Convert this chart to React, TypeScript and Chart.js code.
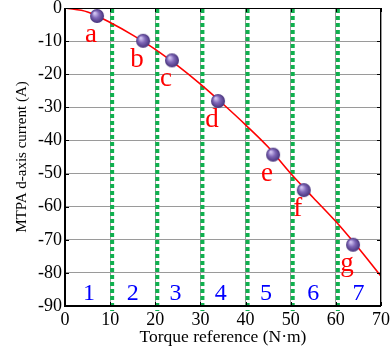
import React, { useEffect, useRef } from "react";
import { Chart, registerables } from "chart.js";

Chart.register(...registerables);

// MTPA curve samples (torque N·m -> d-axis current A)
const curveTorque = [0, 5, 10, 15, 20, 25, 30, 35, 40, 45, 50, 55, 60, 65, 70];
const curveCurrent = [0, -1.2, -4.4, -8.2, -12.5, -17.5, -23, -29, -35.3, -42, -50, -57.3, -64.5, -72.5, -81];

// Operating points a–g
const pointNames = ["a", "b", "c", "d", "e", "f", "g"];
const pointTorque = [7.1, 17.3, 23.7, 33.9, 46.1, 52.9, 63.8];
const pointCurrent = [-2.4, -9.9, -15.8, -28.1, -44.3, -55.0, -71.5];

// Region boundaries and region numbers
const boundaries = [10, 20, 30, 40, 50, 60];
const regionNames = ["1", "2", "3", "4", "5", "6", "7"];
const regionCenters = [5.3, 15, 24.5, 34.5, 44.5, 55, 65];
const regionLabelY = -86.4;

const xTicks = [0, 10, 20, 30, 40, 50, 60, 70];
const yTicks = [0, -10, -20, -30, -40, -50, -60, -70, -80, -90];

const SERIF = "'Liberation Serif', 'DejaVu Serif', serif";

function makeBall(r: number): HTMLCanvasElement {
  const c = document.createElement("canvas");
  c.width = r * 2 + 2;
  c.height = r * 2 + 2;
  const g = c.getContext("2d")!;
  const cx = r + 1;
  const grad = g.createRadialGradient(cx - r * 0.35, cx - r * 0.4, r * 0.1, cx, cx, r);
  grad.addColorStop(0, "#d2c4f2");
  grad.addColorStop(0.45, "#8068b8");
  grad.addColorStop(1, "#45317a");
  g.fillStyle = grad;
  g.beginPath();
  g.arc(cx, cx, r, 0, Math.PI * 2);
  g.fill();
  return c;
}

// dotted green region boundaries, drawn under the curve
const regionLines = {
  id: "regionLines",
  beforeDatasetsDraw(chart: any) {
    const { ctx, chartArea, scales } = chart;
    ctx.save();
    ctx.strokeStyle = "#0fb04e";
    ctx.lineWidth = 4;
    ctx.setLineDash([4, 3]);
    for (const b of boundaries) {
      const px = scales.x.getPixelForValue(b) + 2;
      ctx.beginPath();
      ctx.moveTo(px, chartArea.top + 1);
      ctx.lineTo(px, chartArea.bottom + 5);
      ctx.stroke();
    }
    ctx.restore();
  },
};

const annotations = {
  id: "annotations",
  afterDatasetsDraw(chart: any) {
    const { ctx, chartArea, scales } = chart;
    const xs = scales.x;
    const ys = scales.y;
    ctx.save();
    // frame with inward ticks
    ctx.strokeStyle = "#000";
    ctx.lineWidth = 1;
    ctx.beginPath();
    ctx.moveTo(chartArea.left, chartArea.top + 0.5);
    ctx.lineTo(chartArea.right, chartArea.top + 0.5);
    ctx.moveTo(chartArea.right - 0.5, chartArea.top);
    ctx.lineTo(chartArea.right - 0.5, chartArea.bottom);
    ctx.stroke();
    ctx.beginPath();
    for (const t of xTicks) {
      const px = Math.round(xs.getPixelForValue(t)) + 0.5;
      ctx.moveTo(px, chartArea.top);
      ctx.lineTo(px, chartArea.top + 4);
      ctx.moveTo(px, chartArea.bottom);
      ctx.lineTo(px, chartArea.bottom - 4);
    }
    for (const t of yTicks) {
      const py = Math.round(ys.getPixelForValue(t)) + 0.5;
      ctx.moveTo(chartArea.right, py);
      ctx.lineTo(chartArea.right - 4, py);
      ctx.moveTo(chartArea.left, py);
      ctx.lineTo(chartArea.left + 4, py);
    }
    ctx.stroke();
    // left and bottom axes
    ctx.lineWidth = 2;
    ctx.beginPath();
    ctx.moveTo(chartArea.left, chartArea.top);
    ctx.lineTo(chartArea.left, chartArea.bottom);
    ctx.lineTo(chartArea.right, chartArea.bottom);
    ctx.stroke();

    // point names
    ctx.fillStyle = "#ff0000";
    ctx.font = `27px ${SERIF}`;
    ctx.textAlign = "center";
    ctx.textBaseline = "middle";
    pointNames.forEach((n, i) => {
      const px = xs.getPixelForValue(pointTorque[i]);
      const py = ys.getPixelForValue(pointCurrent[i]);
      ctx.fillText(n, px - 6, py + 19);
    });

    // region numbers
    ctx.fillStyle = "#0000ff";
    ctx.font = `24px ${SERIF}`;
    regionNames.forEach((n, i) => {
      ctx.fillText(n, xs.getPixelForValue(regionCenters[i]), ys.getPixelForValue(regionLabelY));
    });
    ctx.restore();
  },
};

export default function App() {
  const ref = useRef<HTMLCanvasElement | null>(null);

  useEffect(() => {
    document.body.style.margin = "0";
    const ctx = ref.current!.getContext("2d")!;
    const ball = makeBall(7);

    const chart = new Chart(ctx, {
      type: "line",
      data: {
        datasets: [
          {
            data: curveTorque.map((x, i) => ({ x, y: curveCurrent[i] })),
            borderColor: "#ff0000",
            borderWidth: 1.6,
            pointRadius: 0,
            cubicInterpolationMode: "monotone",
            fill: false,
            order: 2,
          },
          {
            data: pointTorque.map((x, i) => ({ x, y: pointCurrent[i] })),
            showLine: false,
            pointStyle: ball as any,
            pointRadius: 7,
            order: 1,
          },
        ],
      },
      options: {
        animation: false,
        responsive: false,
        layout: { padding: { top: 5, right: 10, left: 0, bottom: 0 } },
        plugins: { legend: { display: false }, tooltip: { enabled: false } },
        scales: {
          x: {
            type: "linear",
            min: 0,
            max: 70,
            afterBuildTicks: (s: any) => {
              s.ticks = xTicks.map((v) => ({ value: v }));
            },
            afterFit: (s: any) => {
              s.height = 48;
              s.paddingLeft = 0;
              s.paddingRight = 0;
            },
            grid: { color: "#9a9a9a", lineWidth: 1, drawTicks: false },
            border: { display: false },
            ticks: {
              color: "#000",
              font: { family: SERIF, size: 18 },
              padding: 3,
              maxRotation: 0,
            },
            title: {
              display: true,
              text: "Torque reference (N·m)",
              color: "#000",
              font: { family: SERIF, size: 17.5 },
              padding: { top: 0, bottom: 6 },
            },
          },
          y: {
            type: "linear",
            min: -90,
            max: 0,
            afterBuildTicks: (s: any) => {
              s.ticks = yTicks.map((v) => ({ value: v }));
            },
            afterFit: (s: any) => {
              s.width = 65;
              s.paddingTop = 0;
              s.paddingBottom = 0;
            },
            grid: { color: "#9a9a9a", lineWidth: 1, drawTicks: false },
            border: { display: false },
            ticks: {
              color: "#000",
              font: { family: SERIF, size: 18 },
              padding: 3,
            },
            title: {
              display: true,
              text: "MTPA d-axis current (A)",
              color: "#000",
              font: { family: SERIF, size: 15 },
              padding: { top: 13, bottom: 0 },
            },
          },
        },
      },
      plugins: [regionLines, annotations],
    });
    return () => chart.destroy();
  }, []);

  return (
    <div style={{ width: 391, height: 354, background: "#fff" }}>
      <canvas ref={ref} width={391} height={354} />
    </div>
  );
}
